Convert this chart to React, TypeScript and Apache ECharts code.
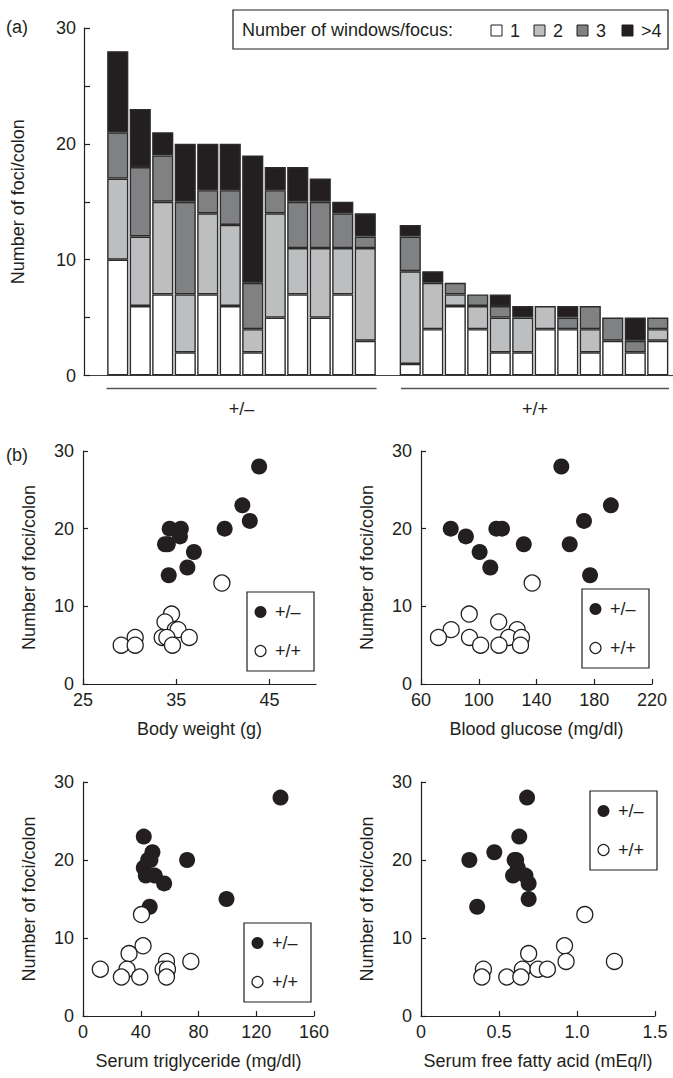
import React, { useEffect, useRef } from "react";
import * as echarts from "echarts";

// ---------- (a) stacked bars: number of windows per focus ----------
const HET_ONE = [10, 6, 7, 2, 7, 6, 2, 5, 7, 5, 7, 3];
const HET_TWO = [7, 6, 8, 5, 7, 7, 2, 9, 4, 6, 4, 8];
const HET_THREE = [4, 6, 4, 8, 2, 3, 4, 2, 4, 4, 3, 1];
const HET_MORE = [7, 5, 2, 5, 4, 4, 11, 2, 3, 2, 1, 2];
const HOM_ONE = [1, 4, 6, 4, 2, 2, 4, 4, 2, 3, 2, 3];
const HOM_TWO = [8, 4, 1, 2, 3, 3, 2, 0, 2, 0, 0, 1];
const HOM_THREE = [3, 0, 1, 1, 1, 0, 0, 1, 2, 2, 1, 1];
const HOM_MORE = [1, 1, 0, 0, 1, 1, 0, 1, 0, 0, 2, 0];
const WINDOW_LABELS = ["1", "2", "3", ">4"];
const GROUP_LABELS = ["+/–", "+/+"];
const BAR_Y_TICKS = [0, 10, 20, 30];

// ---------- (b) scatter panels: [x, foci/colon] ----------
const HET_BW = [[34.3, 20], [35.5, 20], [35.4, 19], [34.1, 18], [33.8, 18], [36.9, 17], [36.2, 15], [34.2, 14], [40.2, 20], [42.1, 23], [42.9, 21], [43.9, 28]];
const HOM_BW = [[39.9, 13], [34.5, 9], [33.8, 8], [34.9, 7], [35.2, 7], [33.5, 6], [34.0, 6], [36.4, 6], [30.6, 6], [34.6, 5], [29.1, 5], [30.6, 5]];
const HET_GLU = [[80.6, 20], [91.1, 19], [100.6, 17], [108, 15], [112.2, 20], [116.1, 20], [131.2, 18], [157.2, 28], [163, 18], [172.9, 21], [191.5, 23], [177.1, 14]];
const HOM_GLU = [[137, 13], [93.4, 9], [113.8, 8], [80.9, 7], [126.6, 7], [72.1, 6], [93.6, 6], [120.7, 6], [129.6, 6], [101.3, 5], [114, 5], [128.9, 5]];
const HET_TG = [[136.8, 28], [42.1, 23], [48.1, 21], [45.1, 20], [46.7, 20], [72.1, 20], [42.1, 19], [43.5, 18], [49.7, 18], [56.2, 17], [99.4, 15], [46.2, 14]];
const HOM_TG = [[40.5, 13], [41.6, 9], [31.9, 8], [74.7, 7], [57.8, 7], [30.5, 6], [55.5, 6], [58.5, 6], [12, 6], [26.6, 5], [39.3, 5], [57.8, 5]];
const HET_FFA = [[0.31, 20], [0.47, 21], [0.63, 23], [0.68, 28], [0.6, 20], [0.61, 20], [0.62, 19], [0.59, 18], [0.67, 18], [0.69, 17], [0.69, 15], [0.36, 14]];
const HOM_FFA = [[1.05, 13], [0.92, 9], [0.69, 8], [0.93, 7], [1.24, 7], [0.4, 6], [0.65, 6], [0.75, 6], [0.81, 6], [0.39, 5], [0.55, 5], [0.64, 5]];
const BW_TICKS = [25, 35, 45];
const GLU_TICKS = [60, 100, 140, 180, 220];
const TG_TICKS = [0, 40, 80, 120, 160];
const FFA_TICKS = [0, 0.5, 1.0, 1.5];

const FONT = "'Liberation Sans', Arial, Helvetica, sans-serif";
const INK = "#231f20";
const FILLS = ["#ffffff", "#bdbec0", "#808183", "#231f20"];
const FS = 18;

export default function App() {
  const ref = useRef<HTMLDivElement>(null);
  useEffect(() => {
    document.body.style.margin = "0";
    const chart = echarts.init(ref.current!, null, { renderer: "svg" });

    const cats = ["", ...HET_ONE.map((_, i) => "het" + (i + 1)), "", ...HOM_ONE.map((_, i) => "hom" + (i + 1))];
    const seg = (a: number[], b: number[]) => [null, ...a.map((v) => (v ? v : null)), null, ...b.map((v) => (v ? v : null))];
    const segs = [seg(HET_ONE, HOM_ONE), seg(HET_TWO, HOM_TWO), seg(HET_THREE, HOM_THREE), seg(HET_MORE, HOM_MORE)];

    const axisLine = { show: true, lineStyle: { color: INK, width: 1.2 } };
    const labelStyle = { color: INK, fontSize: FS, fontFamily: FONT };
    const nameStyle = { color: INK, fontSize: FS, fontFamily: FONT };

    const grids = [
      { left: 84, top: 28, width: 26 * 22.5, height: 347.5 },
      { left: 83, top: 451, width: 233, height: 233 },
      { left: 421, top: 451, width: 231, height: 233 },
      { left: 83, top: 782, width: 231, height: 234 },
      { left: 421, top: 782, width: 234, height: 234 },
    ];

    const sx = (gi: number, min: number, max: number, ticks: number[], name: string, interval: number, fmt?: (v: number) => string) => ({
      type: "value", gridIndex: gi, min, max, interval,
      name, nameLocation: "middle", nameGap: 36, nameTextStyle: nameStyle,
      axisLine, splitLine: { show: false },
      axisTick: { show: true, inside: true, length: 5, lineStyle: { color: INK, width: 1.2 }, customValues: ticks },
      axisLabel: { ...labelStyle, margin: 7, customValues: ticks, formatter: fmt || ((v: number) => String(v)) },
    });
    const sy = (gi: number) => ({
      type: "value", gridIndex: gi, min: 0, max: 30, interval: 10,
      name: "Number of foci/colon", nameLocation: "middle", nameGap: 45, nameTextStyle: nameStyle,
      axisLine, splitLine: { show: false },
      axisTick: { show: true, inside: true, length: 5, lineStyle: { color: INK, width: 1.2 } },
      axisLabel: { ...labelStyle, margin: 9 },
    });

    const dots = (i: number, data: number[][], filled: boolean) => ({
      type: "scatter", name: filled ? GROUP_LABELS[0] : GROUP_LABELS[1], xAxisIndex: i, yAxisIndex: i, data,
      symbolSize: 16, z: filled ? 2 : 3,
      itemStyle: filled ? { color: INK, opacity: 1 } : { color: "#fff", borderColor: INK, borderWidth: 1.3, opacity: 1 },
    });

    const option: any = {
      animation: false,
      textStyle: { fontFamily: FONT },
      grid: grids,
      xAxis: [
        { type: "category", gridIndex: 0, data: cats, axisLine: { show: true, lineStyle: { color: "#444", width: 1.2 } }, axisTick: { show: false }, axisLabel: { show: false } },
        sx(1, 25, 50, BW_TICKS, "Body weight (g)", 5),
        sx(2, 60, 220, GLU_TICKS, "Blood glucose (mg/dl)", 20),
        sx(3, 0, 160, TG_TICKS, "Serum triglyceride (mg/dl)", 40),
        sx(4, 0, 1.5, FFA_TICKS, "Serum free fatty acid (mEq/l)", 0.5, (v: number) => (v === 0 ? "0" : v.toFixed(1))),
      ],
      yAxis: [
        {
          type: "value", gridIndex: 0, min: 0, max: 30, interval: 5,
          name: "Number of foci/colon", nameLocation: "middle", nameGap: 57, nameTextStyle: nameStyle,
          axisLine, splitLine: { show: false },
          axisTick: { show: true, inside: true, length: 6, lineStyle: { color: INK, width: 1.2 } },
          axisLabel: { ...labelStyle, margin: 8, formatter: (v: number) => (BAR_Y_TICKS.includes(v) ? String(v) : "") },
        },
        sy(1), sy(2), sy(3), sy(4),
      ],
      series: [
        ...segs.map((d, k) => ({
          type: "bar", name: WINDOW_LABELS[k], stack: "foci", xAxisIndex: 0, yAxisIndex: 0, data: d,
          barCategoryGap: "6%",
          itemStyle: { color: FILLS[k], borderColor: "#2b2b2b", borderWidth: 1.4 },
        })),
        dots(1, HET_BW, true), dots(1, HOM_BW, false),
        dots(2, HET_GLU, true), dots(2, HOM_GLU, false),
        dots(3, HET_TG, true), dots(3, HOM_TG, false),
        dots(4, HET_FFA, true), dots(4, HOM_FFA, false),
      ],
    };
    chart.setOption(option);

    // decorations
    const t = (x: number, y: number, text: string, align = "left") => ({
      type: "text", x, y, style: { text, fill: INK, font: `${FS}px ${FONT}`, textAlign: align, textVerticalAlign: "middle" },
    });
    const g: any[] = [t(6, 27, "(a)"), t(6, 455, "(b)")];

    // bar legend
    g.push({ type: "rect", shape: { x: 233, y: 10, width: 435, height: 39 }, style: { fill: "none", stroke: INK, lineWidth: 1.2 } });
    g.push(t(242, 30, "Number of windows/focus:"));
    const sqX = [491, 534, 577, 622];
    WINDOW_LABELS.forEach((lab, k) => {
      g.push({ type: "rect", shape: { x: sqX[k], y: 25, width: 11, height: 11 }, style: { fill: FILLS[k], stroke: INK, lineWidth: 1 } });
      g.push(t(sqX[k] + 19, 31, lab));
    });

    // scatter legends
    const legendBox = (x: number, y: number) => {
      g.push({ type: "rect", shape: { x, y, width: 67, height: 79 }, style: { fill: "#fff", stroke: INK, lineWidth: 1.2 }, z: 10 });
      g.push({ type: "circle", shape: { cx: x + 13.5, cy: y + 20, r: 6 }, style: { fill: INK }, z: 11 });
      g.push({ type: "circle", shape: { cx: x + 13.5, cy: y + 59, r: 5.5 }, style: { fill: "#fff", stroke: INK, lineWidth: 1.2 }, z: 11 });
      g.push({ ...t(x + 28, y + 20, GROUP_LABELS[0]), z: 11 });
      g.push({ ...t(x + 28, y + 59, GROUP_LABELS[1]), z: 11 });
    };
    legendBox(247, 592);
    legendBox(582, 589);
    legendBox(244, 923);
    legendBox(590, 791);

    // group brackets computed from the category axis
    const px = (i: number) => chart.convertToPixel({ gridIndex: 0 }, [i, 0]) as number[];
    const slot = px(2)[0] - px(1)[0];
    const base = px(1)[1];
    const n = HET_ONE.length;
    const spans = [
      [px(1)[0] - slot / 2, px(n)[0] + slot / 2],
      [px(n + 2)[0] - slot / 2 + 2, px(2 * n + 1)[0] + slot / 2],
    ];
    spans.forEach(([a, b], k) => {
      g.push({ type: "line", shape: { x1: a, y1: base + 13, x2: b, y2: base + 13 }, style: { stroke: "#555", lineWidth: 1.3 } });
      g.push({ type: "text", x: (a + b) / 2, y: base + 33, style: { text: GROUP_LABELS[k], fill: INK, font: `${FS}px ${FONT}`, textAlign: "center", textVerticalAlign: "middle" } });
    });
    g.push({ type: "line", shape: { x1: px(2 * n + 1)[0] + slot / 2, y1: base, x2: 673, y2: base }, style: { stroke: "#444", lineWidth: 1.2 } });

    chart.setOption({ graphic: g });
    return () => chart.dispose();
  }, []);
  return <div ref={ref} style={{ width: 673, height: 1078 }} />;
}
